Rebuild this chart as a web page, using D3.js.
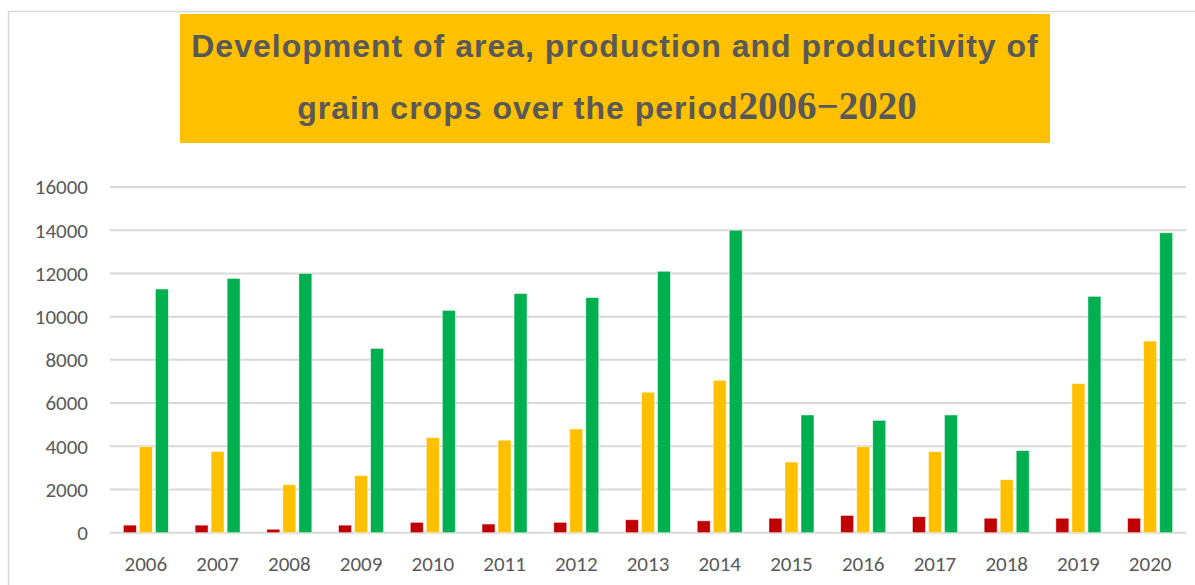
<!DOCTYPE html>
<html>
<head>
<meta charset="utf-8">
<script src="https://cdn.jsdelivr.net/npm/d3@7"></script>
<style>
    body { margin: 0; background: #ffffff; }
    .tick-label { font-family: Calibri, Carlito, Lato, sans-serif; font-size: 21px; fill: #595959; }
</style>
</head>
<body>
<svg id="chart" width="1195" height="585"></svg>
<script>
const years = ['2006', '2007', '2008', '2009', '2010', '2011', '2012', '2013', '2014', '2015', '2016', '2017', '2018', '2019', '2020'];
const seriesNames = ['area', 'production', 'productivity'];
const area = [350, 350, 160, 350, 480, 400, 480, 600, 550, 670, 800, 740, 670, 670, 670];
const production = [3980, 3760, 2220, 2640, 4400, 4280, 4800, 6500, 7050, 3270, 3980, 3750, 2450, 6900, 8870];
const productivity = [11280, 11770, 12000, 8530, 10290, 11070, 10880, 12100, 14000, 5450, 5200, 5450, 3800, 10940, 13880];
const yTicks = [0, 2000, 4000, 6000, 8000, 10000, 12000, 14000, 16000];
const colors = ['#c00000', '#ffc000', '#00b050'];

const margin = {top: 187, right: 9, bottom: 52, left: 110};
const width = 1195 - margin.left - margin.right;
const height = 585 - margin.top - margin.bottom - 0.3;

const svg = d3.select('#chart');

// outer chart border, runs off the right and bottom edges
svg.append('rect')
    .attr('x', 8.5)
    .attr('y', 11.5)
    .attr('width', 1200)
    .attr('height', 600)
    .attr('fill', '#ffffff')
    .attr('stroke', '#d9d9d9')
    .attr('stroke-width', 1.5);

// title box
svg.append('rect')
    .attr('x', 180)
    .attr('y', 14)
    .attr('width', 870)
    .attr('height', 129)
    .attr('fill', '#ffc000');

const title = svg.append('text')
    .attr('fill', '#595959')
    .attr('font-weight', 'bold')
    .style('text-anchor', 'middle');

title.append('tspan')
    .attr('x', 615)
    .attr('y', 57)
    .attr('font-family', '"Liberation Sans", Arial, sans-serif')
    .attr('font-size', 32)
    .attr('letter-spacing', 1)
    .text('Development of area, production and productivity of');

title.append('tspan')
    .attr('x', 607)
    .attr('y', 119)
    .attr('font-family', '"Liberation Sans", Arial, sans-serif')
    .attr('font-size', 32)
    .attr('letter-spacing', 1)
    .text('grain crops over the period');

title.append('tspan')
    .attr('font-family', '"Liberation Serif", "Times New Roman", serif')
    .attr('font-size', 39)
    .attr('letter-spacing', 0)
    .text('2006\u22122020');

const g = svg.append('g')
    .attr('transform', `translate(${margin.left}, ${margin.top})`);

const x0 = d3.scaleBand()
    .domain(years)
    .range([0, width])
    .paddingInner(0.33)
    .paddingOuter(0.165);

const x1 = d3.scaleBand()
    .domain(seriesNames)
    .range([0, x0.bandwidth()])
    .paddingInner(0.19)
    .paddingOuter(0.095);

const y = d3.scaleLinear()
    .domain([0, 16000])
    .range([height, 0]);

// gridlines
g.append('g')
    .selectAll('line')
    .data(yTicks)
    .enter()
    .append('line')
    .attr('x1', 0)
    .attr('x2', width)
    .attr('y1', d => y(d))
    .attr('y2', d => y(d))
    .attr('stroke', '#d9d9d9')
    .attr('stroke-width', 2);

// y labels
g.append('g')
    .selectAll('text')
    .data(yTicks)
    .enter()
    .append('text')
    .attr('class', 'tick-label')
    .attr('x', -22)
    .attr('y', d => y(d))
    .attr('dy', '0.35em')
    .style('text-anchor', 'end')
    .text(d => d);

// x labels
g.append('g')
    .selectAll('text')
    .data(years)
    .enter()
    .append('text')
    .attr('class', 'tick-label')
    .attr('x', d => x0(d) + x0.bandwidth() / 2)
    .attr('y', height + 38)
    .style('text-anchor', 'middle')
    .text(d => d);

const rows = years.map((yr, i) => ({
    year: yr,
    values: [area[i], production[i], productivity[i]]
}));

const group = g.append('g')
    .selectAll('g')
    .data(rows)
    .enter()
    .append('g')
    .attr('transform', d => `translate(${x0(d.year)}, 0)`);

group.selectAll('rect')
    .data(d => d.values.map((v, k) => ({key: seriesNames[k], value: v, k})))
    .enter()
    .append('rect')
    .attr('x', d => x1(d.key))
    .attr('y', d => y(d.value))
    .attr('width', x1.bandwidth())
    .attr('height', d => height - y(d.value))
    .attr('fill', d => colors[d.k])
    .attr('stroke', '#ffffff')
    .attr('stroke-opacity', 0.6)
    .attr('stroke-width', 0.8);
</script>
</body>
</html>
